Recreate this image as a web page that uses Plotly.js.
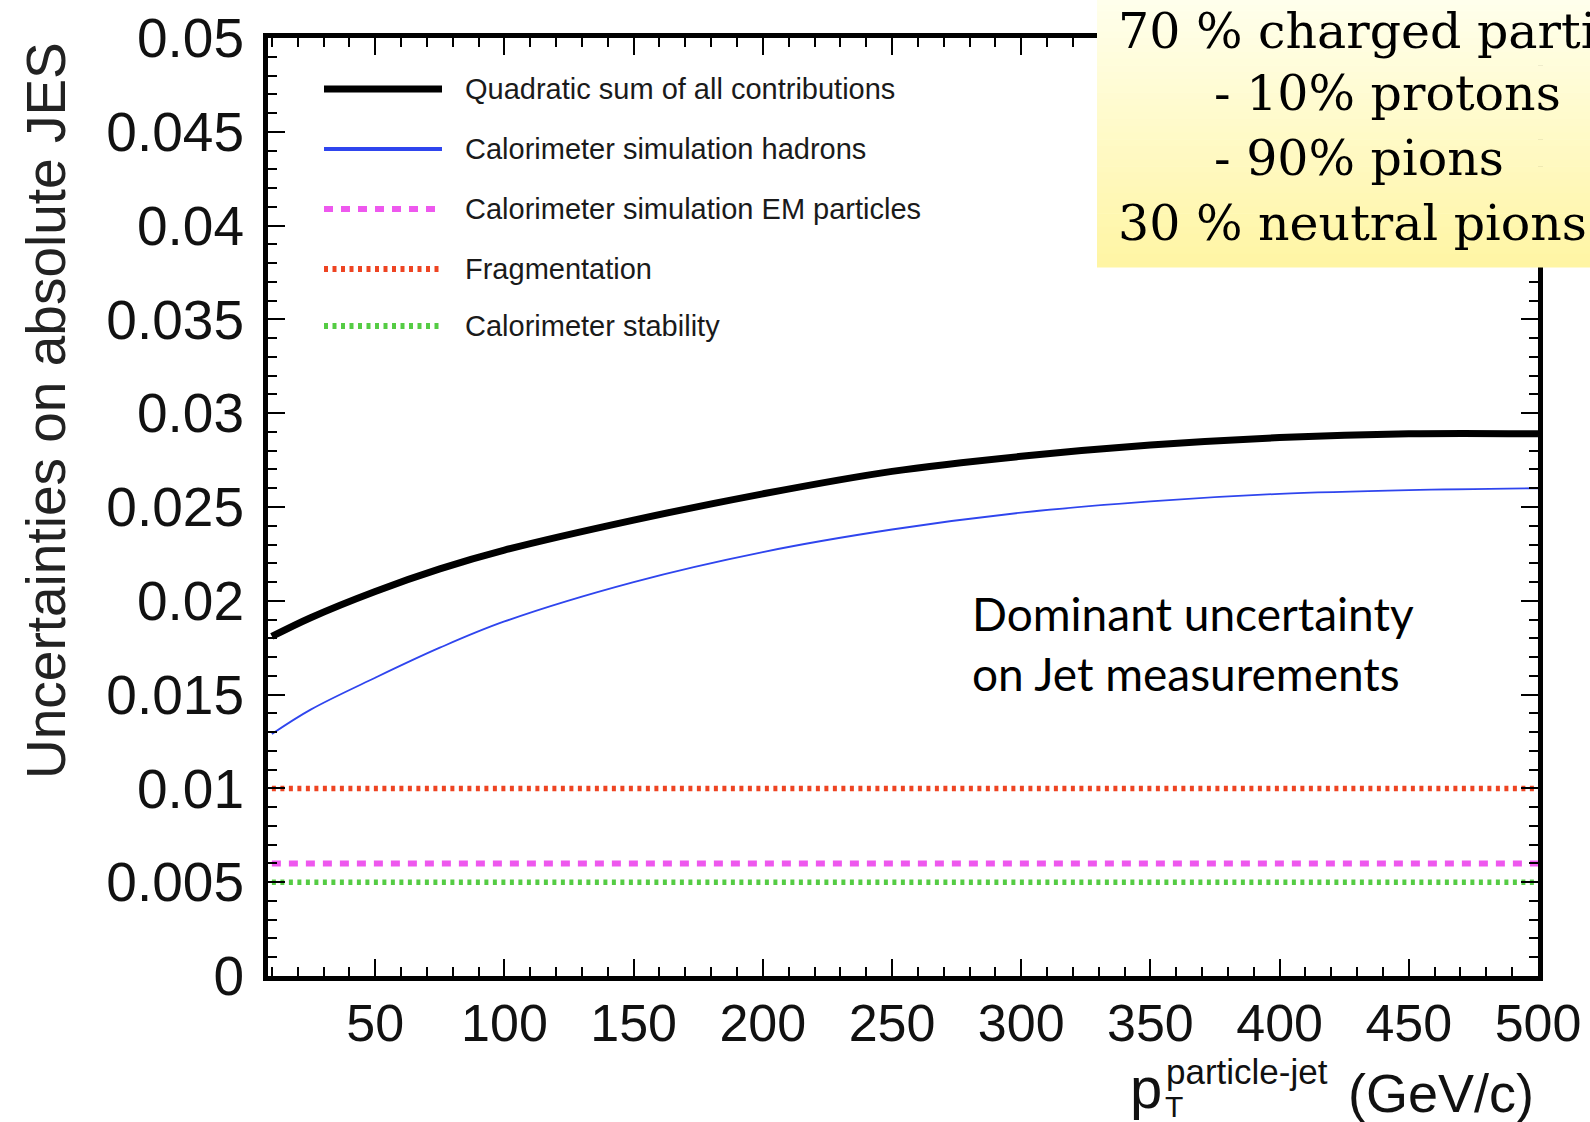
<!DOCTYPE html>
<html>
<head>
<meta charset="utf-8">
<script src="https://cdn.plot.ly/plotly-3.0.1.min.js"></script>
<style>
  html, body { margin: 0; padding: 0; background: #ffffff; }
  #chart { width: 1590px; height: 1122px; }
</style>
</head>
<body>
<div id="chart"></div>
<script>
// Jet energy scale uncertainty contributions vs particle-jet pT
const pT = [10, 25, 50, 75, 100, 150, 200, 250, 300, 350, 400, 450, 500];
const quadraticSum = [0.0181, 0.0191, 0.0205, 0.0217, 0.0227, 0.0243, 0.0257, 0.0269, 0.0277, 0.0283, 0.0287, 0.0289, 0.0289];
const caloHadrons = [0.0129, 0.0142, 0.0159, 0.0175, 0.0189, 0.0210, 0.0226, 0.0238, 0.0247, 0.0253, 0.0257, 0.0259, 0.0260];
const flatRange = [10, 500];
const caloEM = [0.006, 0.006];
const fragmentation = [0.010, 0.010];
const caloStability = [0.005, 0.005];

const seriesNames = [
  "Quadratic sum of all contributions",
  "Calorimeter simulation hadrons",
  "Calorimeter simulation EM particles",
  "Fragmentation",
  "Calorimeter stability"
];

const yTickVals = [0, 0.005, 0.01, 0.015, 0.02, 0.025, 0.03, 0.035, 0.04, 0.045, 0.05];
const yTickText = ["0", "0.005", "0.01", "0.015", "0.02", "0.025", "0.03", "0.035", "0.04", "0.045", "0.05"];
const xTickVals = [50, 100, 150, 200, 250, 300, 350, 400, 450, 500];
const xTickText = ["50", "100", "150", "200", "250", "300", "350", "400", "450", "500"];

const boxLines = ["70 % charged particles", "- 10% protons", "- 90% pions", "30 % neutral pions"];
const noteLines = ["Dominant uncertainty", "on Jet measurements"];

// page geometry helpers (pixel -> paper)
const W = 1590, H = 1122;
const M = { l: 268, r: 52, t: 38, b: 146 };
const px = x => (x - M.l) / (W - M.l - M.r);
const py = y => (H - M.b - y) / (H - M.t - M.b);

const styles = [
  { color: "#000000", width: 7, dash: "solid", legendWidth: 7 },
  { color: "#2f45ee", width: 1.8, dash: "solid", legendWidth: 4 },
  { color: "#ee58ee", width: 6, dash: "9px,8px", legendWidth: 6 },
  { color: "#ee4422", width: 5.5, dash: "4px,4.5px", legendWidth: 6 },
  { color: "#55cc44", width: 5.5, dash: "4px,4.5px", legendWidth: 6 }
];

const traces = [
  { x: flatRange, y: fragmentation, name: seriesNames[3], style: styles[3], shape: "linear" },
  { x: flatRange, y: caloEM, name: seriesNames[2], style: styles[2], shape: "linear" },
  { x: flatRange, y: caloStability, name: seriesNames[4], style: styles[4], shape: "linear" },
  { x: pT, y: caloHadrons, name: seriesNames[1], style: styles[1], shape: "spline" },
  { x: pT, y: quadraticSum, name: seriesNames[0], style: styles[0], shape: "spline" }
].map(t => ({
  type: "scatter", mode: "lines", x: t.x, y: t.y, name: t.name,
  line: { color: t.style.color, width: t.style.width, dash: t.style.dash, shape: t.shape, smoothing: 1 },
  showlegend: false, hoverinfo: "x+y"
}));

const shapes = [];
const annotations = [];

// legend block
const legendRows = [89, 149, 209, 269, 326];
seriesNames.forEach((name, i) => {
  const s = styles[i];
  shapes.push({
    type: "line", xref: "paper", yref: "paper",
    x0: px(324), x1: px(442), y0: py(legendRows[i]), y1: py(legendRows[i]),
    line: { color: s.color, width: s.legendWidth, dash: s.dash }
  });
  annotations.push({
    xref: "paper", yref: "paper", x: px(463), y: py(legendRows[i]),
    xanchor: "left", yanchor: "middle", showarrow: false, text: name,
    font: { family: "Liberation Sans, Arial, sans-serif", size: 29, color: "#1a1a1a" }
  });
});

// pale yellow gradient box in the top-right corner
const bands = 40, bx0 = 1097, bx1 = 1592, by0 = -2, by1 = 267;
const colTop = [255, 255, 236], colBot = [255, 245, 164];
for (let k = 0; k < bands; k++) {
  const f = k / (bands - 1);
  const c = colTop.map((v, j) => Math.round(v + (colBot[j] - v) * f));
  const ya = by0 + (by1 - by0) * k / bands;
  const yb = by0 + (by1 - by0) * (k + 1) / bands + 0.6;
  shapes.push({
    type: "rect", xref: "paper", yref: "paper", layer: "above",
    x0: px(bx0), x1: px(bx1), y0: py(yb), y1: py(ya),
    fillcolor: `rgb(${c[0]},${c[1]},${c[2]})`, line: { width: 0 }
  });
}
const boxX = [1116, 1212, 1212, 1116];
const boxY = [31, 94, 158, 223];
boxLines.forEach((t, i) => {
  annotations.push({
    xref: "paper", yref: "paper", x: px(boxX[i]), y: py(boxY[i]),
    xanchor: "left", yanchor: "middle", showarrow: false, text: t,
    font: { family: "DejaVu Serif, serif", size: 49, color: "#000000" }
  });
});

// note inside the plot
const noteY = [614, 673];
noteLines.forEach((t, i) => {
  annotations.push({
    xref: "paper", yref: "paper", x: px(970), y: py(noteY[i]),
    xanchor: "left", yanchor: "middle", showarrow: false, text: t,
    font: { family: "Lato, 'Open Sans', sans-serif", size: 46, color: "#000000" }
  });
});

// y-axis title
annotations.push({
  xref: "paper", yref: "paper", x: px(46), y: py(411),
  xanchor: "center", yanchor: "middle", showarrow: false, textangle: -90,
  text: "Uncertainties on absolute JES",
  font: { family: "Liberation Sans Narrow, Arial Narrow, Liberation Sans, sans-serif", size: 55, color: "#222222" }
});

// x-axis title: p_T^{particle-jet} (GeV/c)
const axFont = "Liberation Sans, Arial, sans-serif";
annotations.push({
  xref: "paper", yref: "paper", x: px(1536), y: py(1093),
  xanchor: "right", yanchor: "middle", showarrow: false, text: "(GeV/c)",
  font: { family: axFont, size: 54, color: "#111111" }
});
annotations.push({
  xref: "paper", yref: "paper", x: px(1128), y: py(1087),
  xanchor: "left", yanchor: "middle", showarrow: false, text: "p",
  font: { family: axFont, size: 58, color: "#111111" }
});
annotations.push({
  xref: "paper", yref: "paper", x: px(1164), y: py(1071),
  xanchor: "left", yanchor: "middle", showarrow: false, text: "particle-jet",
  font: { family: "Liberation Sans Narrow, Arial Narrow, Liberation Sans, sans-serif", size: 35, color: "#111111" }
});
annotations.push({
  xref: "paper", yref: "paper", x: px(1163), y: py(1106),
  xanchor: "left", yanchor: "middle", showarrow: false, text: "T",
  font: { family: axFont, size: 30, color: "#111111" }
});

const layout = {
  width: W, height: H,
  margin: { l: M.l, r: M.r, t: M.t, b: M.b, pad: 0 },
  paper_bgcolor: "#ffffff", plot_bgcolor: "#ffffff",
  showlegend: false,
  xaxis: {
    range: [8.5, 500], showgrid: false, zeroline: false,
    showline: true, linecolor: "#000000", linewidth: 5, mirror: "allticks",
    ticks: "inside", ticklen: 17, tickwidth: 2, tickcolor: "#000000",
    tickvals: xTickVals, ticktext: xTickText, ticklabelstandoff: -2,
    tickfont: { family: axFont, size: 52, color: "#111111" },
    minor: { dtick: 10, tick0: 0, ticks: "inside", ticklen: 9, tickwidth: 2, tickcolor: "#000000", showgrid: false }
  },
  yaxis: {
    range: [0, 0.05], showgrid: false, zeroline: false,
    showline: true, linecolor: "#000000", linewidth: 5, mirror: "allticks",
    ticks: "inside", ticklen: 17, tickwidth: 2, tickcolor: "#000000",
    tickvals: yTickVals, ticktext: yTickText, ticklabelstandoff: 8,
    tickfont: { family: axFont, size: 55, color: "#111111" },
    minor: { dtick: 0.001, tick0: 0, ticks: "inside", ticklen: 9, tickwidth: 2, tickcolor: "#000000", showgrid: false }
  },
  shapes: shapes,
  annotations: annotations
};

Plotly.newPlot("chart", traces, layout, { displayModeBar: false, staticPlot: true });
</script>
</body>
</html>
